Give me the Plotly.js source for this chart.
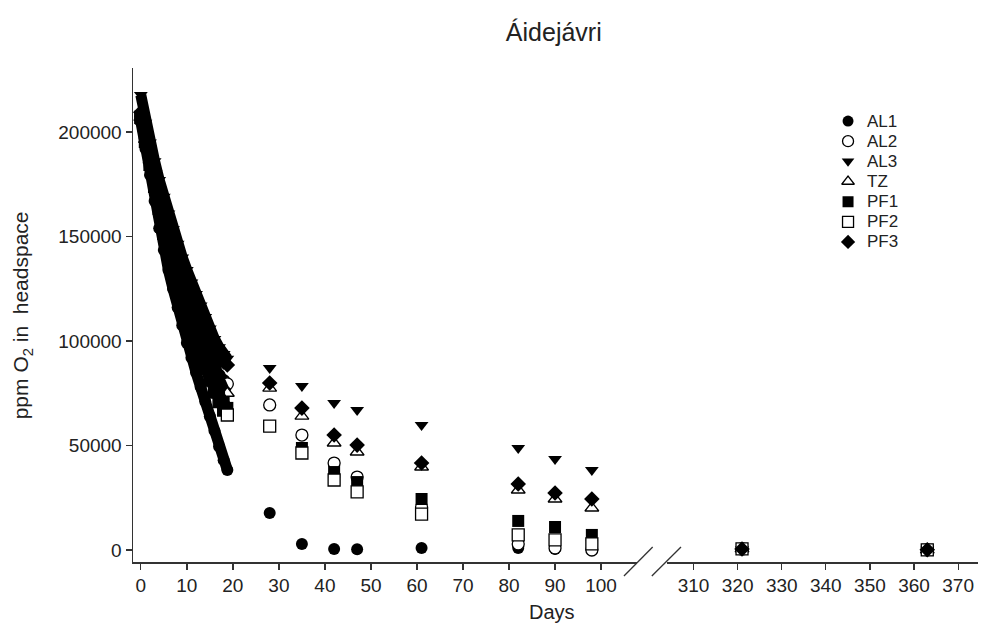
<!DOCTYPE html>
<html>
<head>
<meta charset="utf-8">
<script src="https://cdn.plot.ly/plotly-3.0.1.min.js"></script>
<style>html,body{margin:0;padding:0;background:#fff;}#chart{width:981px;height:637px;}</style>
</head>
<body>
<div id="chart"></div>
<script>
// ---- data ----
const seriesNames = ['AL1', 'AL2', 'AL3', 'TZ', 'PF1', 'PF2', 'PF3'];

// dense logging period (days)
const denseDays = [0, 1, 2, 3, 4, 5, 6, 7, 8, 9, 10, 11, 12, 13, 14, 15, 16, 17, 18, 18.8];
const al1Dense = [205000, 192000, 179500, 167000, 154000, 143500, 134000, 125000, 116000, 107500, 99000, 92000, 85000, 78000, 71000, 64000, 57000, 49500, 43000, 38300];
const al2Dense = [207500, 197000, 187000, 177500, 168000, 159000, 151000, 143500, 136000, 129000, 122000, 115500, 109000, 103000, 97500, 92000, 87500, 83500, 81000, 79500];
const al3Dense = [217700, 204500, 195000, 186000, 177000, 169000, 161000, 153500, 146500, 140000, 134000, 128000, 122500, 117000, 111500, 106000, 101000, 97000, 93800, 91500];
const tzDense  = [207000, 196500, 186500, 177000, 167500, 158500, 150500, 143000, 135500, 128500, 121500, 115000, 108500, 102500, 96500, 91000, 86000, 81000, 77000, 75000];
const pf1Dense = [206500, 196000, 185500, 175500, 165500, 155500, 147500, 139500, 131500, 124000, 116500, 109500, 102500, 96500, 90500, 85000, 79500, 74500, 70500, 68000];
const pf2Dense = [207000, 195500, 184500, 174000, 163500, 151500, 144000, 136000, 128000, 120300, 112700, 105000, 98300, 92600, 87000, 81300, 75600, 71000, 67000, 64600];
const pf3Dense = [209500, 200000, 190500, 181500, 173000, 165000, 157000, 149500, 142500, 135500, 129000, 122500, 116500, 111000, 105500, 100500, 96000, 92500, 90000, 88500];

// discrete samplings (days)
const sampleDays = [28, 35, 42, 47, 61, 82, 90, 98];
const al1Samples = [17700, 2900, 500, 300, 1000, 1000, 500, 300];
const al2Samples = [69400, 55000, 41600, 34900, 20600, 2900, 1000, 0];
const al3Samples = [87100, 78500, 70300, 67000, 59800, 48800, 43500, 38300];
const tzSamples  = [77500, 64100, 51200, 46900, 39700, 28700, 24400, 20100];
const pf1Samples = [59300, 48800, 37300, 32500, 24400, 13900, 11000, 7200];
const pf2Samples = [59300, 46400, 33500, 27800, 17200, 7200, 4800, 2900];
const pf3Samples = [79900, 67900, 55000, 50200, 41600, 31600, 27300, 24400];

// late samplings (days, after axis break)
const lateDays = [321, 363];
const al1Late = [500, 100];
const al2Late = [500, 100];
const al3Late = [500, 100];
const tzLate  = [500, 100];
const pf1Late = [500, 100];
const pf2Late = [500, 100];
const pf3Late = [500, 100];

const xTicksLeft = [0, 10, 20, 30, 40, 50, 60, 70, 80, 90, 100];
const xTicksRight = [310, 320, 330, 340, 350, 360, 370];
const yTicks = [0, 50000, 100000, 150000, 200000];

const denseVals = [al1Dense, al2Dense, al3Dense, tzDense, pf1Dense, pf2Dense, pf3Dense];
const sampleVals = [al1Samples, al2Samples, al3Samples, tzSamples, pf1Samples, pf2Samples, pf3Samples];
const lateVals = [al1Late, al2Late, al3Late, tzLate, pf1Late, pf2Late, pf3Late];

// ---- styles ----
const styles = [
  {symbol: 'circle', fill: 'black'},
  {symbol: 'circle', fill: 'white'},
  {symbol: 'triangle-down', fill: 'black'},
  {symbol: 'triangle-up', fill: 'white'},
  {symbol: 'square', fill: 'black'},
  {symbol: 'square', fill: 'white'},
  {symbol: 'diamond', fill: 'black'}
];
function mk(i, size) {
  const s = styles[i];
  return {symbol: s.symbol, size: size, color: s.fill,
          line: {color: 'black', width: s.fill === 'white' ? 1.3 : 0}};
}

const traces = [];
// dense period: overlapping markers form a solid band; the last logged marker keeps its own fill
seriesNames.forEach((name, i) => {
  const n = denseVals[i].length;
  const fills = denseVals[i].map((v, k) => (k === n - 1 ? styles[i].fill : 'black'));
  const m = mk(i, 12);
  m.color = fills;
  traces.push({x: denseDays, y: denseVals[i], type: 'scatter', mode: 'lines+markers',
    line: {color: 'black', width: 11}, marker: m, xaxis: 'x', yaxis: 'y',
    showlegend: false, name: name, hoverinfo: 'skip'});
});
seriesNames.forEach((name, i) => {
  traces.push({x: sampleDays, y: sampleVals[i], type: 'scatter', mode: 'markers',
    marker: mk(i, 12), xaxis: 'x', yaxis: 'y', showlegend: false, name: name});
  traces.push({x: lateDays, y: lateVals[i], type: 'scatter', mode: 'markers',
    marker: mk(i, 12), xaxis: 'x2', yaxis: 'y', showlegend: false, name: name});
});
// legend key: one symbol per series on its own small axis (row = series index)
seriesNames.forEach((name, i) => {
  traces.push({x: [0], y: [i], type: 'scatter', mode: 'markers', marker: mk(i, 11),
    xaxis: 'x3', yaxis: 'y3', showlegend: false, name: name, hoverinfo: 'skip'});
});

const FONT = 'Liberation Sans, Arial, sans-serif';
const axisCommon = {showline: true, linecolor: '#333', linewidth: 1.5, ticks: 'outside',
  ticklen: 6, tickwidth: 1.3, tickcolor: '#333', showgrid: false, zeroline: false,
  tickfont: {family: FONT, size: 19, color: '#222'}};
const hiddenAxis = {showline: false, showgrid: false, zeroline: false, showticklabels: false,
  ticks: '', fixedrange: true};

const legendText = seriesNames.map((name, i) => ({
  text: name, xref: 'x3', yref: 'y3', x: 0, y: i, xanchor: 'left', yanchor: 'middle',
  xshift: 17, showarrow: false, font: {family: FONT, size: 17, color: '#222'}
}));

const layout = {
  width: 981, height: 637,
  margin: {l: 133, r: 3, t: 68, b: 75},
  paper_bgcolor: 'white', plot_bgcolor: 'white',
  font: {family: FONT, color: '#222'},
  showlegend: false,
  title: {text: 'Áidejávri', font: {family: FONT, size: 25, color: '#222'},
          x: 0.498, xref: 'paper', xanchor: 'center', y: 0.95, yref: 'container', yanchor: 'middle'},
  xaxis: Object.assign({}, axisCommon, {domain: [0, 0.5964], range: [-1.7, 107.8],
    tickmode: 'array', tickvals: xTicksLeft, anchor: 'y'}),
  xaxis2: Object.assign({}, axisCommon, {domain: [0.632, 1], range: [304, 374.5],
    tickmode: 'array', tickvals: xTicksRight, anchor: 'y'}),
  yaxis: Object.assign({}, axisCommon, {range: [-5750, 230650], tickmode: 'array',
    tickvals: yTicks, tickformat: 'd', anchor: 'x'}),
  xaxis3: Object.assign({}, hiddenAxis, {domain: [0.8262, 0.8662], range: [-1, 1], anchor: 'y3'}),
  yaxis3: Object.assign({}, hiddenAxis, {domain: [0.6275, 0.913], range: [6.5, -0.5], anchor: 'x3'}),
  annotations: [
    {text: 'Days', xref: 'paper', yref: 'paper', x: 0.496, y: -0.101, xanchor: 'center', yanchor: 'middle',
     showarrow: false, font: {family: FONT, size: 20, color: '#222'}},
    {text: 'ppm O<sub>2</sub> in  headspace', xref: 'paper', yref: 'paper', x: -0.131, y: 0.5,
     xanchor: 'center', yanchor: 'middle', textangle: -90, showarrow: false,
     font: {family: FONT, size: 21, color: '#222'}}
  ].concat(legendText),
  shapes: [
    {type: 'line', xref: 'paper', yref: 'paper', x0: 0.581, y0: -0.0283, x1: 0.615, y1: 0.0304,
     line: {color: '#333', width: 1.3}},
    {type: 'line', xref: 'paper', yref: 'paper', x0: 0.614, y0: -0.0283, x1: 0.6485, y1: 0.0304,
     line: {color: '#333', width: 1.3}}
  ]
};

Plotly.newPlot('chart', traces, layout, {displayModeBar: false, staticPlot: true});
</script>
</body>
</html>
